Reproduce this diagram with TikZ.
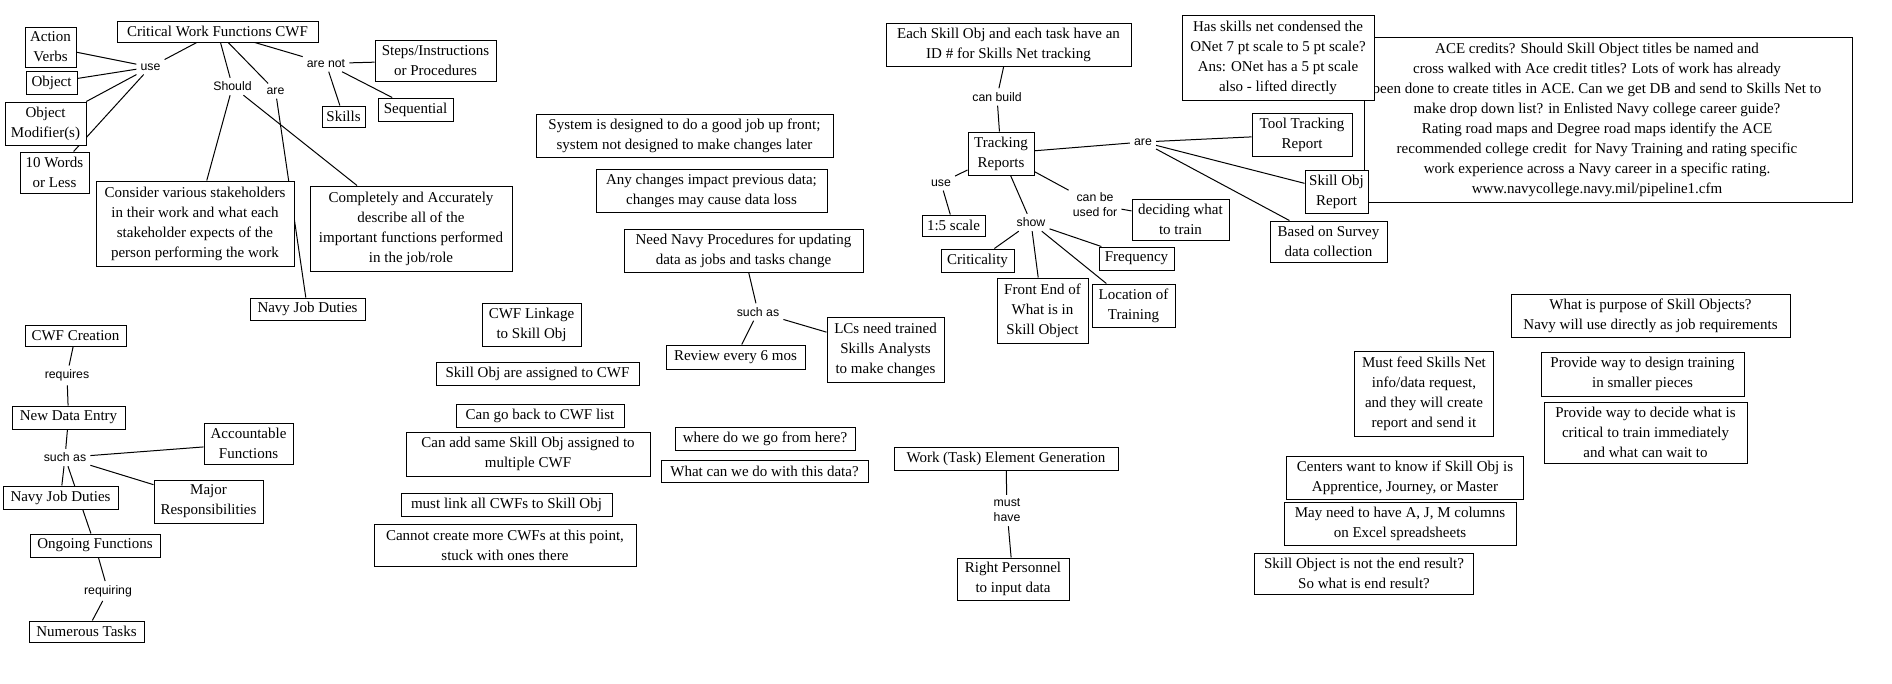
\documentclass[tikz,border=0pt]{standalone}
\usepackage{fontspec}
\setmainfont{Liberation Serif}
\setsansfont{Liberation Sans}
\usetikzlibrary{positioning}
\usetikzlibrary{backgrounds}

\begin{document}
\begin{tikzpicture}[x=1pt,y=-1pt,
  box/.style={draw, fill=white, line width=1pt, inner sep=2pt, align=center,
    font=\fontsize{15}{20}\selectfont},
  sz/.style 2 args={minimum width=#1pt, minimum height=#2pt},
  lbl/.style={inner sep=4pt, align=center, font=\sffamily\fontsize{12.3}{15}\selectfont},
  link/.style={line width=1pt}]
\useasboundingbox (0,0) rectangle (1892,683);

% critical work functions
\node[box, sz={201}{21}] (cwf) at (217.5,31.5) {Critical Work Functions CWF};
\node[box, sz={51}{40}] (verbs) at (50.5,47) {Action\\Verbs};
\node[box, sz={51}{23}] (object) at (51.5,82.5) {Object};
\node[box, sz={81}{43}] (modif) at (45.5,123.5) {Object\\Modifier(s)};
\node[box, sz={69}{41}] (words) at (54.5,172.5) {10 Words\\or Less};
\node[box, sz={121}{41}] (steps) at (435.5,60.5) {Steps/Instructions\\or Procedures};
\node[box, sz={43}{21}] (skills) at (343.5,116.5) {Skills};
\node[box, sz={75}{23}] (seq) at (415.5,109.5) {Sequential};
\node[box, sz={198}{85}] (consider) at (195,223.5) {Consider various stakeholders\\in their work and what each\\stakeholder expects of the\\person performing the work};
\node[box, sz={202}{85}] (complete) at (411,228.5) {Completely and Accurately\\describe all of the\\important functions performed\\in the job/role};
\node[box, sz={115}{22}] (dutiesA) at (307.5,309) {Navy Job Duties};
\node[lbl] (use) at (150.5,67) {use};
\node[lbl] (should) at (232.5,86.5) {Should};
\node[lbl] (are) at (275.5,91) {are};
\node[lbl] (arenot) at (326,63.5) {are not};

% cwf creation
\node[box, sz={101}{21}] (creation) at (75.5,335.5) {CWF Creation};
\node[box, sz={113}{23}] (entry) at (68.5,417.5) {New Data Entry};
\node[box, sz={89}{41}] (account) at (248.5,443.5) {Accountable\\Functions};
\node[box, sz={109}{43}] (major) at (208.5,501.5) {Major\\Responsibilities};
\node[box, sz={115}{23}] (dutiesB) at (60.5,497.5) {Navy Job Duties};
\node[box, sz={130}{23}] (ongoing) at (95,545.5) {Ongoing Functions};
\node[box, sz={115}{21}] (tasks) at (86.5,631.5) {Numerous Tasks};
\node[lbl] (requires) at (67,375.5) {requires};
\node[lbl] (suchasA) at (65,457.5) {such as};
\node[lbl] (requiring) at (108,591) {requiring};

% linkage to skill obj
\node[box, sz={99}{43}] (linkage) at (531.5,324.5) {CWF Linkage\\to Skill Obj};
\node[box, sz={203}{23}] (assigned) at (537.5,373.5) {Skill Obj are assigned to CWF};
\node[box, sz={168}{23}] (goback) at (540,415.5) {Can go back to CWF list};
\node[box, sz={244}{44}] (addsame) at (528,454) {Can add same Skill Obj assigned to\\multiple CWF};
\node[box, sz={211}{23}] (mustlink) at (506.5,504.5) {must link all CWFs to Skill Obj};
\node[box, sz={262}{42}] (cannot) at (505,545) {Cannot create more CWFs at this point,\\stuck with ones there};
\node[box, sz={180}{23}] (where) at (765,438.5) {where do we go from here?};
\node[box, sz={207}{22}] (whatcan) at (764.5,471) {What can we do with this data?};

% updating the data
\node[box, sz={297}{43}] (system) at (684.5,135.5) {System is designed to do a good job up front;\\system not designed to make changes later};
\node[box, sz={231}{43}] (anychg) at (711.5,190.5) {Any changes impact previous data;\\changes may cause data loss};
\node[box, sz={239}{43}] (needproc) at (743.5,250.5) {Need Navy Procedures for updating\\data as jobs and tasks change};
\node[box, sz={139}{24}] (review) at (735.5,357) {Review every 6 mos};
\node[box, sz={117}{65}] (lcs) at (885.5,349.5) {LCs need trained\\Skills Analysts\\to make changes};
\node[lbl] (suchasB) at (758,312) {such as};

% tracking reports
\node[box, sz={488}{165}] (ace) at (1608,119.5) {\hbox{\begin{tabular}{@{}c@{}}
  ACE credits? Should Skill Object titles be named and\\
  cross walked with Ace credit titles? Lots of work has already\\
  been done to create titles in ACE. Can we get DB and send to Skills Net to\\
  make drop down list? in Enlisted Navy college career guide?\\
  Rating road maps and Degree road maps identify the ACE\\
  recommended college credit\ \ for Navy Training and rating specific\\
  work experience across a Navy career in a specific rating.\\
  www.navycollege.navy.mil/pipeline1.cfm
  \end{tabular}\kern22pt}};
\node[box, sz={245}{43}] (eachobj) at (1008.5,44.5) {Each Skill Obj and each task have an\\ID \# for Skills Net tracking};
\node[box, sz={66}{43}] (tracking) at (1001,153.5) {Tracking\\Reports};
\node[box, sz={100}{43}] (tooltr) at (1302,134.5) {Tool Tracking\\Report};
\node[box, sz={63}{43}] (objrep) at (1336.5,191.5) {Skill Obj\\Report};
\node[box, sz={117}{41}] (survey) at (1328.5,241.5) {Based on Survey\\data collection};
\node[box, sz={63}{21}] (scale) at (953.5,225.5) {1:5 scale};
\node[box, sz={97}{41}] (decide) at (1180.5,219.5) {deciding what\\to train};
\node[box, sz={73}{23}] (crit) at (977.5,260.5) {Criticality};
\node[box, sz={91}{65}] (front) at (1042.5,310.5) {Front End of\\What is in\\Skill Object};
\node[box, sz={83}{43}] (location) at (1133.5,305.5) {Location of\\Training};
\node[box, sz={75}{23}] (freq) at (1136.5,258.5) {Frequency};
\node[box, sz={192}{85}] (hasnet) at (1278,57.5) {Has skills net condensed the\\ONet 7 pt scale to 5 pt scale?\\Ans: ONet has a 5 pt scale\\also - lifted directly};
\node[lbl] (canbuild) at (997,97) {can build};
\node[lbl] (areB) at (1143,142) {are};
\node[lbl] (useB) at (941,183) {use};
\node[lbl] (show) at (1031,222.5) {show};
\node[lbl] (canbe) at (1095,204.5) {can be\\used for};

% work element generation
\node[box, sz={224}{23}] (work) at (1006,458.5) {Work (Task) Element Generation};
\node[box, sz={112}{42}] (personnel) at (1013,579) {Right Personnel\\to input data};
\node[lbl, align=left] (musthave) at (1007,510.5) {must\\have};

% open questions
\node[box, sz={279}{43}] (purpose) at (1650.5,315.5) {What is purpose of Skill Objects?\\Navy will use directly as job requirements};
\node[box, sz={139.5}{85}] (feed) at (1424,393.5) {Must feed Skills Net\\info/data request,\\and they will create\\report and send it};
\node[box, sz={203}{44}] (design) at (1642.5,374) {Provide way to design training\\in smaller pieces};
\node[box, sz={203}{61}] (decide2) at (1645.5,432.5) {Provide way to decide what is\\critical to train immediately\\and what can wait to};
\node[box, sz={237}{43}] (centers) at (1405,477.5) {Centers want to know if Skill Obj is\\Apprentice, Journey, or Master};
\node[box, sz={232}{43}] (columns) at (1400,523.5) {May need to have A, J, M columns\\on Excel spreadsheets};
\node[box, sz={219}{41}] (endres) at (1364,573.5) {Skill Object is not the end result?\\So what is end result?};

\begin{scope}[on background layer]
\fill[white] (0,0) rectangle (1892,683);
\foreach \a/\b in {cwf/use, use/verbs, use/object, use/modif, use/words,
    cwf/should, should/consider, should/complete, cwf/are, are/dutiesA,
    cwf/arenot, arenot/steps, arenot/skills, arenot/seq,
    creation/requires, requires/entry, entry/suchasA, suchasA/account,
    suchasA/major, suchasA/dutiesB, suchasA/ongoing, ongoing/requiring,
    requiring/tasks, needproc/suchasB, suchasB/review, suchasB/lcs,
    eachobj/canbuild, canbuild/tracking, tracking/areB, areB/tooltr,
    areB/objrep, areB/survey, tracking/useB, useB/scale, tracking/show,
    show/crit, show/front, show/location, show/freq, tracking/canbe,
    canbe/decide, work/musthave, musthave/personnel}
  \draw[link] (\a) -- (\b);
\end{scope}

\end{tikzpicture}
\end{document}
